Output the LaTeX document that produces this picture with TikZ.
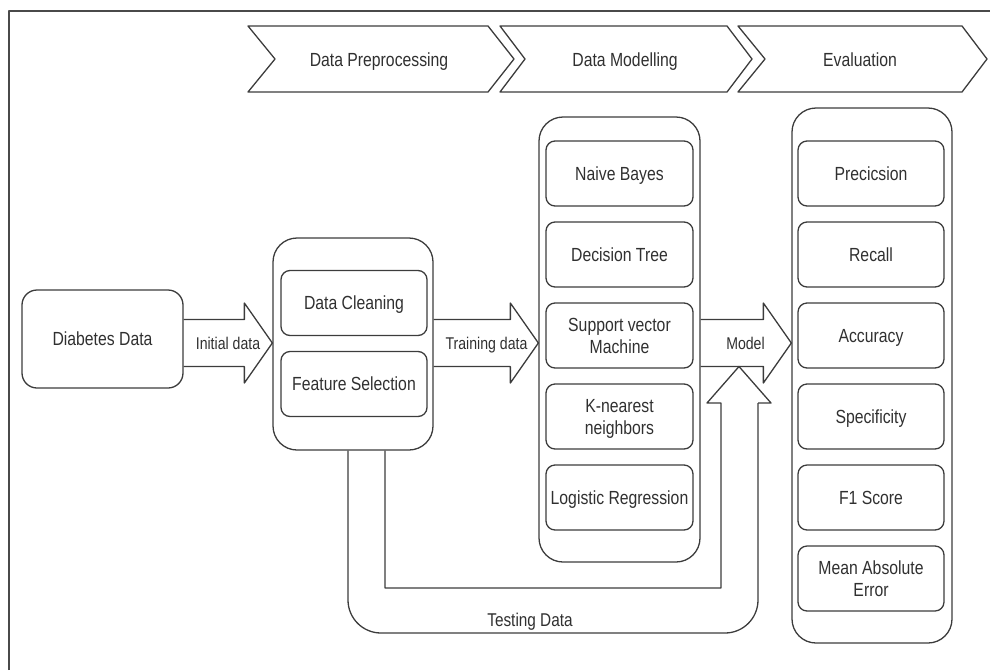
\documentclass[tikz,border=0pt]{standalone}
\usepackage{fontspec}
\setmainfont[FakeStretch=0.83]{Liberation Sans}
\usetikzlibrary{calc}
\definecolor{ink}{HTML}{3C3C3C}
\definecolor{inktext}{HTML}{303030}
\definecolor{rim}{HTML}{4A4A4A}

% block arrow: shaft starts at the x of #1, tip lands on #2
\newcommand\blockarrow[2]{%
  \draw[flow] let \p1=(#1), \p2=(#2) in
    (\x1,\y2+23.5pt) -- (\x2-28pt,\y2+23.5pt) -- (\x2-28pt,\y2+40pt) -- (\x2,\y2)
    -- (\x2-28pt,\y2-40pt) -- (\x2-28pt,\y2-23.5pt) -- (\x1,\y2-23.5pt);}

\begin{document}
\begin{tikzpicture}[x=1pt,y=-1pt,line join=round,
  font=\fontsize{19}{22}\selectfont,
  every node/.style={text=inktext},
  lbl/.style={inner sep=0pt, text height=14pt, text depth=0.4pt},
  small/.style={inner sep=0pt, font=\fontsize{17}{20}\selectfont, text height=12.6pt, text depth=0.4pt},
  box/.style={lbl, draw=ink, line width=1.3pt, rounded corners=9pt,
    minimum width=146pt, minimum height=65pt, align=center},
  twoline/.style={text height=36pt, text depth=0.4pt},
  holder/.style={draw=ink, line width=1.3pt, rounded corners=24pt, inner sep=0pt},
  flow/.style={draw=ink, line width=1.3pt},
  stage/.style={draw=ink, line width=1.3pt},
]
\useasboundingbox (0,0) rectangle (990,670);

% outer frame
\draw[rim, line width=2pt] (9,670) -- (9,11) -- (990,11);

% process stages
\draw[stage] (248,26) -- (488,26) -- (514,59) -- (488,92) -- (248,92) -- (275,59) -- cycle;
\node[lbl] (st1) at (379,60) {Data Preprocessing};
\draw[stage] (500,26) -- (727,26) -- (752,59) -- (727,92) -- (500,92) -- (525,59) -- cycle;
\node[lbl] (st2) at (625,60) {Data Modelling};
\draw[stage] (738,26) -- (962,26) -- (987,59) -- (962,92) -- (738,92) -- (765,59) -- cycle;
\node[lbl] (st3) at (860,60) {Evaluation};

% input
\node[box, minimum width=161pt, minimum height=98pt, rounded corners=15pt] (diab) at (102.5,339) {Diabetes Data};

% preprocessing
\node[holder, minimum width=160pt, minimum height=212pt] (prep) at (353,344) {};
\node[box] (clean) at (354,303) {Data Cleaning};
\node[box] (feat) at (354,384) {Feature Selection};

% modelling
\node[holder, minimum width=161pt, minimum height=445pt] (mdl) at (619.5,339.5) {};
\node[box, minimum width=147pt] (nb)  at (619.5,173.5) {Naive Bayes};
\node[box, minimum width=147pt] (dt)  at (619.5,254.5) {Decision Tree};
\node[box, minimum width=147pt, twoline] (svm) at (619.5,335.5) {Support vector\\Machine};
\node[box, minimum width=147pt, twoline] (knn) at (619.5,416.5) {K-nearest\\neighbors};
\node[box, minimum width=147pt] (lr)  at (619.5,497.5) {Logistic Regression};

% evaluation
\node[holder, minimum width=160pt, minimum height=535pt] (ev) at (872,375.5) {};
\node[box] (pr)  at (871,173.5) {Precicsion};
\node[box] (rc)  at (871,254.5) {Recall};
\node[box] (ac)  at (871,335.5) {Accuracy};
\node[box] (sp)  at (871,416.5) {Specificity};
\node[box] (f1)  at (871,497.5) {F1 Score};
\node[box, twoline] (mae) at (871,578.5) {Mean Absolute\\Error};

% flow arrows
\coordinate (ay) at (0,343);
\blockarrow{diab.east}{prep.west |- ay}
\blockarrow{prep.east}{mdl.west |- ay}
\blockarrow{mdl.east}{ev.west |- ay}
\node[small] (l1) at (228,343) {Initial data};
\node[small] (l2) at (486.5,343) {Training data};
\node[small] (l3) at (745.5,343) {Model};

% testing data loop
\coordinate (ol) at (348,633);
\coordinate (or) at (758,633);
\coordinate (il) at (385,588);
\coordinate (ir) at (721,588);
\coordinate (hb) at (739,403);
\coordinate (tip) at (739,366.5);
\draw[flow, rounded corners=33pt] (prep.south -| ol) -- (ol) -- (or) -- (or |- hb);
\draw[flow] (or |- hb) -- ($(hb)+(32,0)$) -- (tip) -- ($(hb)+(-32,0)$)
  -- ($(hb)+(-18,0)$) -- (ir) -- (il) -- (prep.south -| il);
\node[lbl, font=\fontsize{18.5}{22}\selectfont] (tl) at (530,620) {Testing Data};
\end{tikzpicture}
\end{document}
